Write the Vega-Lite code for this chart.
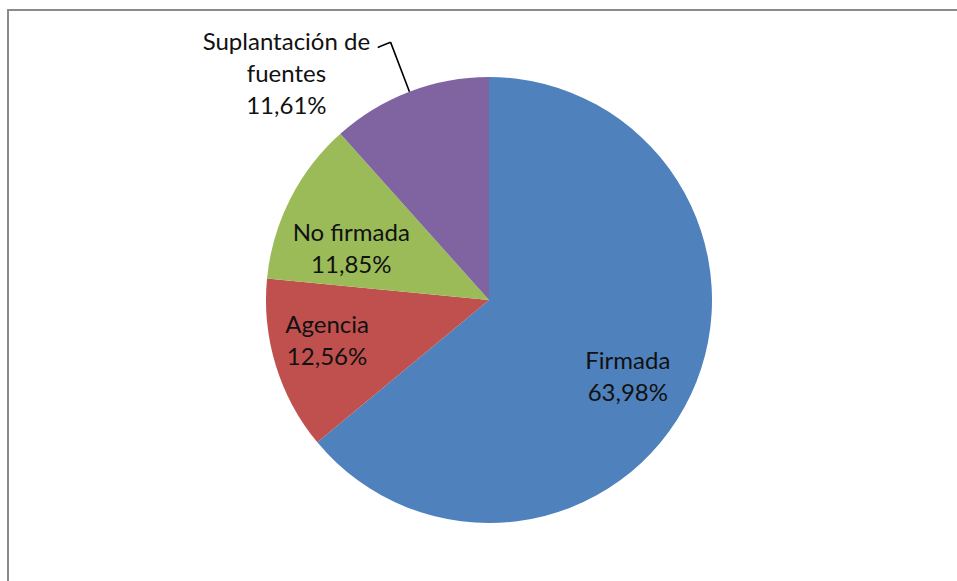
{
  "$schema": "https://vega.github.io/schema/vega-lite/v6.json",
  "width": 962,
  "height": 580,
  "padding": {"left": 8, "top": 10, "right": 0, "bottom": 0},
  "background": "white",
  "view": {"stroke": "#8a8a8a", "strokeWidth": 2},
  "config": {
    "view": {"stroke": "#8a8a8a", "strokeWidth": 2},
    "style": {"cell": {"stroke": "#8a8a8a", "strokeWidth": 2}},
    "text": {"font": "Lato", "fontSize": 24, "lineHeight": 32, "lineBreak": "\n", "color": "#111111", "align": "center", "baseline": "middle"}
  },
  "data": {
    "values": [
      {"name": "Firmada", "value": 63.98, "label": "Firmada\n63,98%"},
      {"name": "Agencia", "value": 12.56, "label": "Agencia\n12,56%"},
      {"name": "No firmada", "value": 11.85, "label": "No firmada\n11,85%"},
      {"name": "Suplantación de fuentes", "value": 11.61, "label": "Suplantación de\nfuentes\n11,61%"}
    ]
  },
  "layer": [
    {
      "mark": {"type": "arc", "outerRadius": 223},
      "encoding": {
        "theta": {"field": "value", "type": "quantitative", "stack": true},
        "order": {"field": "value", "sort": "descending"},
        "color": {
          "field": "name",
          "type": "nominal",
          "scale": {
            "domain": ["Firmada", "Agencia", "No firmada", "Suplantación de fuentes"],
            "range": ["#4F81BD", "#C0504D", "#9BBB59", "#8064A2"]
          },
          "legend": null
        }
      }
    },
    {
      "transform": [
        {"window": [{"op": "sum", "field": "value", "as": "cum"}], "sort": [{"field": "value", "order": "descending"}]},
        {"calculate": "datum.cum - datum.value / 2", "as": "mid"},
        {"calculate": "datum.mid - 0.8", "as": "stub"},
        {"filter": "datum.name === 'Suplantación de fuentes'"}
      ],
      "layer": [
        {
          "mark": {"type": "arc", "fill": null, "stroke": "#000000", "strokeWidth": 1.6},
          "encoding": {
            "theta": {"field": "mid", "type": "quantitative"},
            "theta2": {"field": "mid"},
            "radius": {"value": 276},
            "radius2": {"value": 223}
          }
        },
        {
          "mark": {"type": "arc", "fill": null, "stroke": "#000000", "strokeWidth": 1.6},
          "encoding": {
            "theta": {"field": "stub", "type": "quantitative"},
            "theta2": {"field": "mid"},
            "radius": {"value": 276},
            "radius2": {"value": 276}
          }
        }
      ]
    },
    {
      "mark": {"type": "text", "dx": -6, "dy": -6},
      "encoding": {
        "theta": {"field": "value", "type": "quantitative", "stack": true},
        "order": {"field": "value", "sort": "descending"},
        "detail": {"field": "name", "type": "nominal"},
        "radius": {"value": 160},
        "text": {"condition": {"test": "datum.name === 'Firmada'", "field": "label"}, "value": ""}
      }
    },
    {
      "mark": {"type": "text", "dx": -9, "dy": -21},
      "encoding": {
        "theta": {"field": "value", "type": "quantitative", "stack": true},
        "order": {"field": "value", "sort": "descending"},
        "detail": {"field": "name", "type": "nominal"},
        "radius": {"value": 160},
        "text": {"condition": {"test": "datum.name === 'Agencia'", "field": "label"}, "value": ""}
      }
    },
    {
      "mark": {"type": "text", "dx": 5, "dy": 6},
      "encoding": {
        "theta": {"field": "value", "type": "quantitative", "stack": true},
        "order": {"field": "value", "sort": "descending"},
        "detail": {"field": "name", "type": "nominal"},
        "radius": {"value": 160},
        "text": {"condition": {"test": "datum.name === 'No firmada'", "field": "label"}, "value": ""}
      }
    },
    {
      "mark": {"type": "text", "dx": -117, "dy": -33},
      "encoding": {
        "theta": {"field": "value", "type": "quantitative", "stack": true},
        "order": {"field": "value", "sort": "descending"},
        "detail": {"field": "name", "type": "nominal"},
        "radius": {"value": 240},
        "text": {"condition": {"test": "datum.name === 'Suplantación de fuentes'", "field": "label"}, "value": ""}
      }
    }
  ]
}
